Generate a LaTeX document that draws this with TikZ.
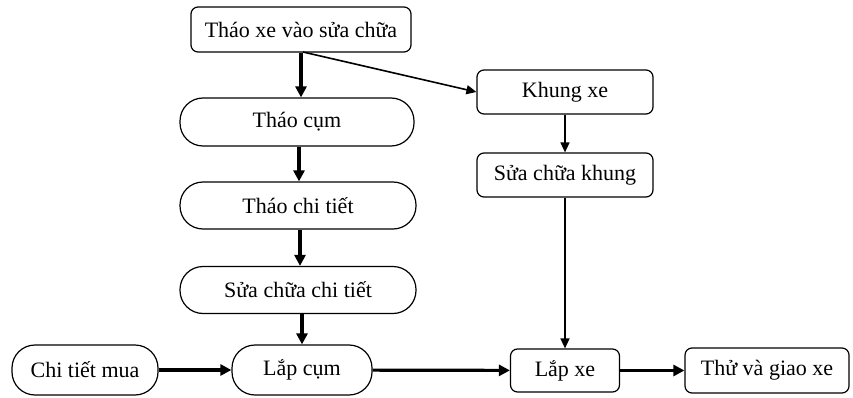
\documentclass[tikz,border=0pt]{standalone}
\usepackage{fontspec}
\setmainfont{Liberation Serif}
\usetikzlibrary{arrows.meta}
\begin{document}
\begin{tikzpicture}[x=1pt,y=-1pt,
  every node/.style={font=\fontsize{22}{24}\selectfont, inner sep=0pt},
  rbox/.style={draw, line width=1.2pt, rounded corners=7pt},
  pill/.style={draw, line width=1.2pt, rounded corners=23pt},
  thick arr/.style={line width=3.2pt, -{Triangle[length=11pt,width=11pt]}},
  thin arr/.style={line width=1.6pt, -{Triangle[length=10pt,width=9pt]}}
]
\useasboundingbox (0,0) rectangle (853,398);
\node[rbox, minimum width=220pt, minimum height=45pt] (top) at (301,29.5) {Tháo xe vào sửa chữa};
\node[rbox, minimum width=176pt, minimum height=44pt] (khung) at (565,92) {Khung xe};
\node[rbox, minimum width=176pt, minimum height=44pt] (suakhung) at (565,175) {Sửa chữa khung};
\node[pill, minimum width=234pt, minimum height=48pt] (thaocum) at (297,122) {Tháo cụm};
\node[pill, minimum width=236pt, minimum height=47pt] (thaoct) at (298,205.5) {Tháo chi tiết};
\node[pill, minimum width=236pt, minimum height=47pt] (suact) at (298,290) {Sửa chữa chi tiết};
\node[pill, minimum width=146pt, minimum height=50pt] (mua) at (85,370) {Chi tiết mua};
\node[pill, minimum width=140pt, minimum height=50pt] (lapcum) at (302,370) {Lắp cụm};
\node[rbox, minimum width=109pt, minimum height=43pt] (lapxe) at (565,370.5) {Lắp xe};
\node[rbox, minimum width=164pt, minimum height=45pt] (thu) at (767,370.5) {Thử và giao xe};

\draw[thick arr] (top.south -| 301,0) -- (thaocum.north -| 301,0);
\draw[thick arr] (thaocum.south -| 299,0) -- (thaoct.north -| 299,0);
\draw[thick arr] (thaoct.south -| 300,0) -- (suact.north -| 300,0);
\draw[thick arr] (suact.south -| 302,0) -- (lapcum.north -| 302,0);
\coordinate (topout) at (303,52);
\draw[thin arr] (topout) -- (khung.west);
\draw[thin arr] (khung) -- (suakhung);
\draw[thin arr] (suakhung) -- (lapxe);
\draw[thick arr] (mua) -- (lapcum);
\draw[thick arr] (lapcum) -- (lapxe);
\draw[thick arr] (lapxe) -- (thu);
\end{tikzpicture}
\end{document}
